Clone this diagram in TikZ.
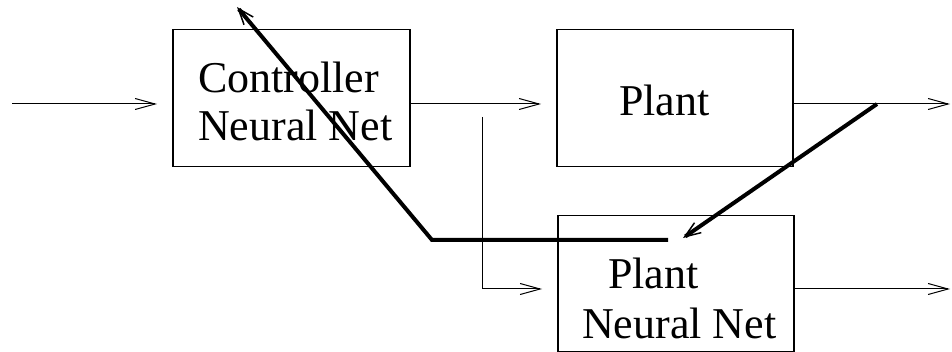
\documentclass[tikz,border=0pt]{standalone}
\usepackage{fontspec}
\setmainfont{Liberation Serif}
\usetikzlibrary{arrows.meta}
\tikzset{
  blk/.style={draw, line width=1.5pt, inner sep=0pt},
  lbl/.style={anchor=base west, inner sep=0pt, font=\fontsize{44}{50}\selectfont},
  thin/.style={line width=1pt, -{Straight Barb[length=20pt,width=11pt,line width=1pt]}},
  thinline/.style={line width=1pt},
  fat/.style={line width=4pt, -{Straight Barb[length=16pt,width=12pt,line width=1.5pt]}},
}
\begin{document}
\begin{tikzpicture}[x=1pt,y=-1pt]
\useasboundingbox (0,0) rectangle (952,352);
% boxes
\node[blk, minimum width=237pt, minimum height=137pt, anchor=north west] (ctrl) at (172,29) {};
\node[blk, minimum width=236pt, minimum height=137pt, anchor=north west] (plant) at (556,29) {};
\node[blk, minimum width=236pt, minimum height=136pt, anchor=north west] (pnn) at (557,215) {};
% labels
\node[lbl] (t1) at (198,93) {Controller};
\node[lbl] (t2) at (198,141) {Neural Net};
\node[lbl] (t3) at (619,116) {Plant};
\node[lbl] (t4) at (608,289) {Plant};
\node[lbl] (t5) at (582,338) {Neural Net};
% coordinates
\coordinate (in) at (12,104);
\coordinate (inT) at (157,104);
\coordinate (cp) at (541,104);
\coordinate (out1) at (950,104);
\coordinate (br) at (482,117);
\coordinate (brc) at (482,289);
\coordinate (brT) at (542,289);
\coordinate (out2) at (950,289);
\coordinate (f1) at (877,104);
\coordinate (f1T) at (683,238);
\coordinate (g1) at (668,240);
\coordinate (g2) at (432,240);
\coordinate (g3) at (237,7);
% thin connectors
\draw[thin] (in) -- (inT);
\draw[thin] (ctrl.east |- cp) -- (cp);
\draw[thin] (plant.east |- out1) -- (out1);
\draw[thin] (br) -- (brc) -- (brT);
\draw[thin] (pnn.east |- out2) -- (out2);
% thick lines
\draw[fat] (f1) -- (f1T);
\draw[fat, line join=miter] (g1) -- (g2) -- (g3);
\end{tikzpicture}
\end{document}
